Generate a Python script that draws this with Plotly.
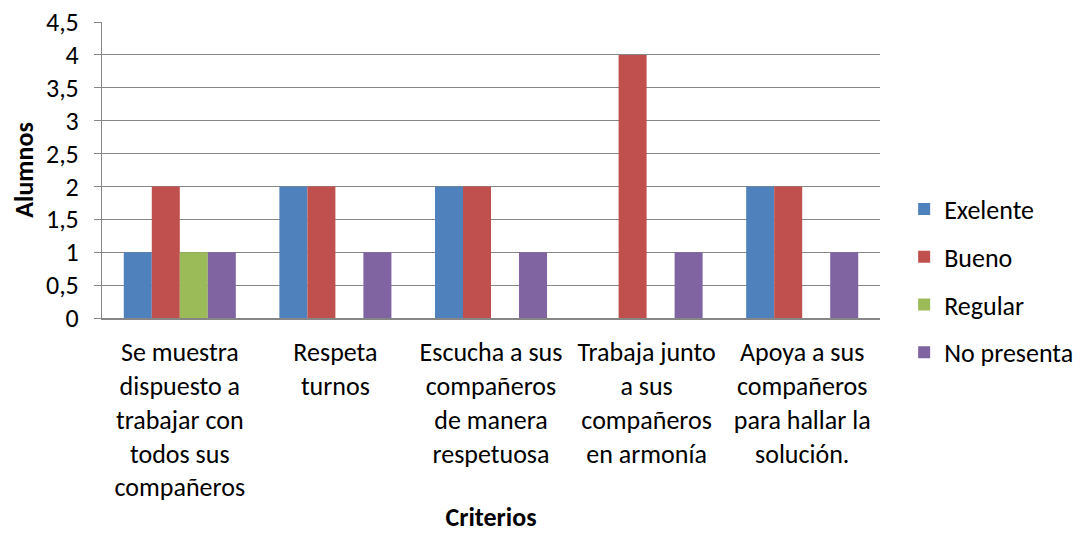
import plotly.graph_objects as go

categories = [
    "Se muestra<br>dispuesto a<br>trabajar con<br>todos sus<br>compañeros",
    "Respeta<br>turnos",
    "Escucha a sus<br>compañeros<br>de manera<br>respetuosa",
    "Trabaja junto<br>a sus<br>compañeros<br>en armonía",
    "Apoya a sus<br>compañeros<br>para hallar la<br>solución.",
]
exelente = [1, 2, 2, 0, 2]
bueno = [2, 2, 2, 4, 2]
regular = [1, 0, 0, 0, 0]
no_presenta = [1, 1, 1, 1, 1]

series = [
    ("Exelente", exelente, "#4F81BD"),
    ("Bueno", bueno, "#C0504D"),
    ("Regular", regular, "#9BBB59"),
    ("No presenta", no_presenta, "#8064A2"),
]

FONT = "Carlito, Lato, sans-serif"
FS = 26

fig = go.Figure()
for name, vals, color in series:
    fig.add_trace(go.Bar(
        x=categories, y=vals, name=name, legendgroup=name,
        marker=dict(color=color, line=dict(width=0)),
    ))

fig.update_layout(
    width=1081, height=525,
    margin=dict(l=94, r=209, t=14, b=215, autoexpand=False),
    paper_bgcolor="white", plot_bgcolor="white",
    font=dict(family=FONT, size=FS, color="black"),
    separators=",.",
    barmode="group", bargap=0.28, bargroupgap=0,
    showlegend=True,
    legend=dict(
        xref="container", yref="container",
        x=0.829, xanchor="left", y=0.480, yanchor="middle",
        traceorder="grouped", tracegroupgap=11,
        font=dict(family=FONT, size=FS, color="black"),
        itemwidth=30,
    ),
    xaxis=dict(
        type="category", showline=True, linecolor="#868686", linewidth=2,
        ticks="", automargin=False,
        tickfont=dict(family=FONT, size=FS),
        ticklabelstandoff=10,
        showgrid=False,
        title=dict(text="<b>Criterios</b>", font=dict(family=FONT, size=FS), standoff=26),
    ),
    yaxis=dict(
        range=[0, 4.5], dtick=0.5, tick0=0,
        showline=True, linecolor="#868686", linewidth=1,
        ticks="outside", ticklen=7, tickcolor="#868686",
        showgrid=True, gridcolor="#868686", gridwidth=1,
        zeroline=False, automargin=False,
        ticklabeloverflow="allow",
        tickfont=dict(family=FONT, size=FS),
        ticklabelstandoff=10,
        title=dict(text="<b>Alumnos</b>", font=dict(family=FONT, size=FS)),
    ),
)

fig.write_html("out.html")
